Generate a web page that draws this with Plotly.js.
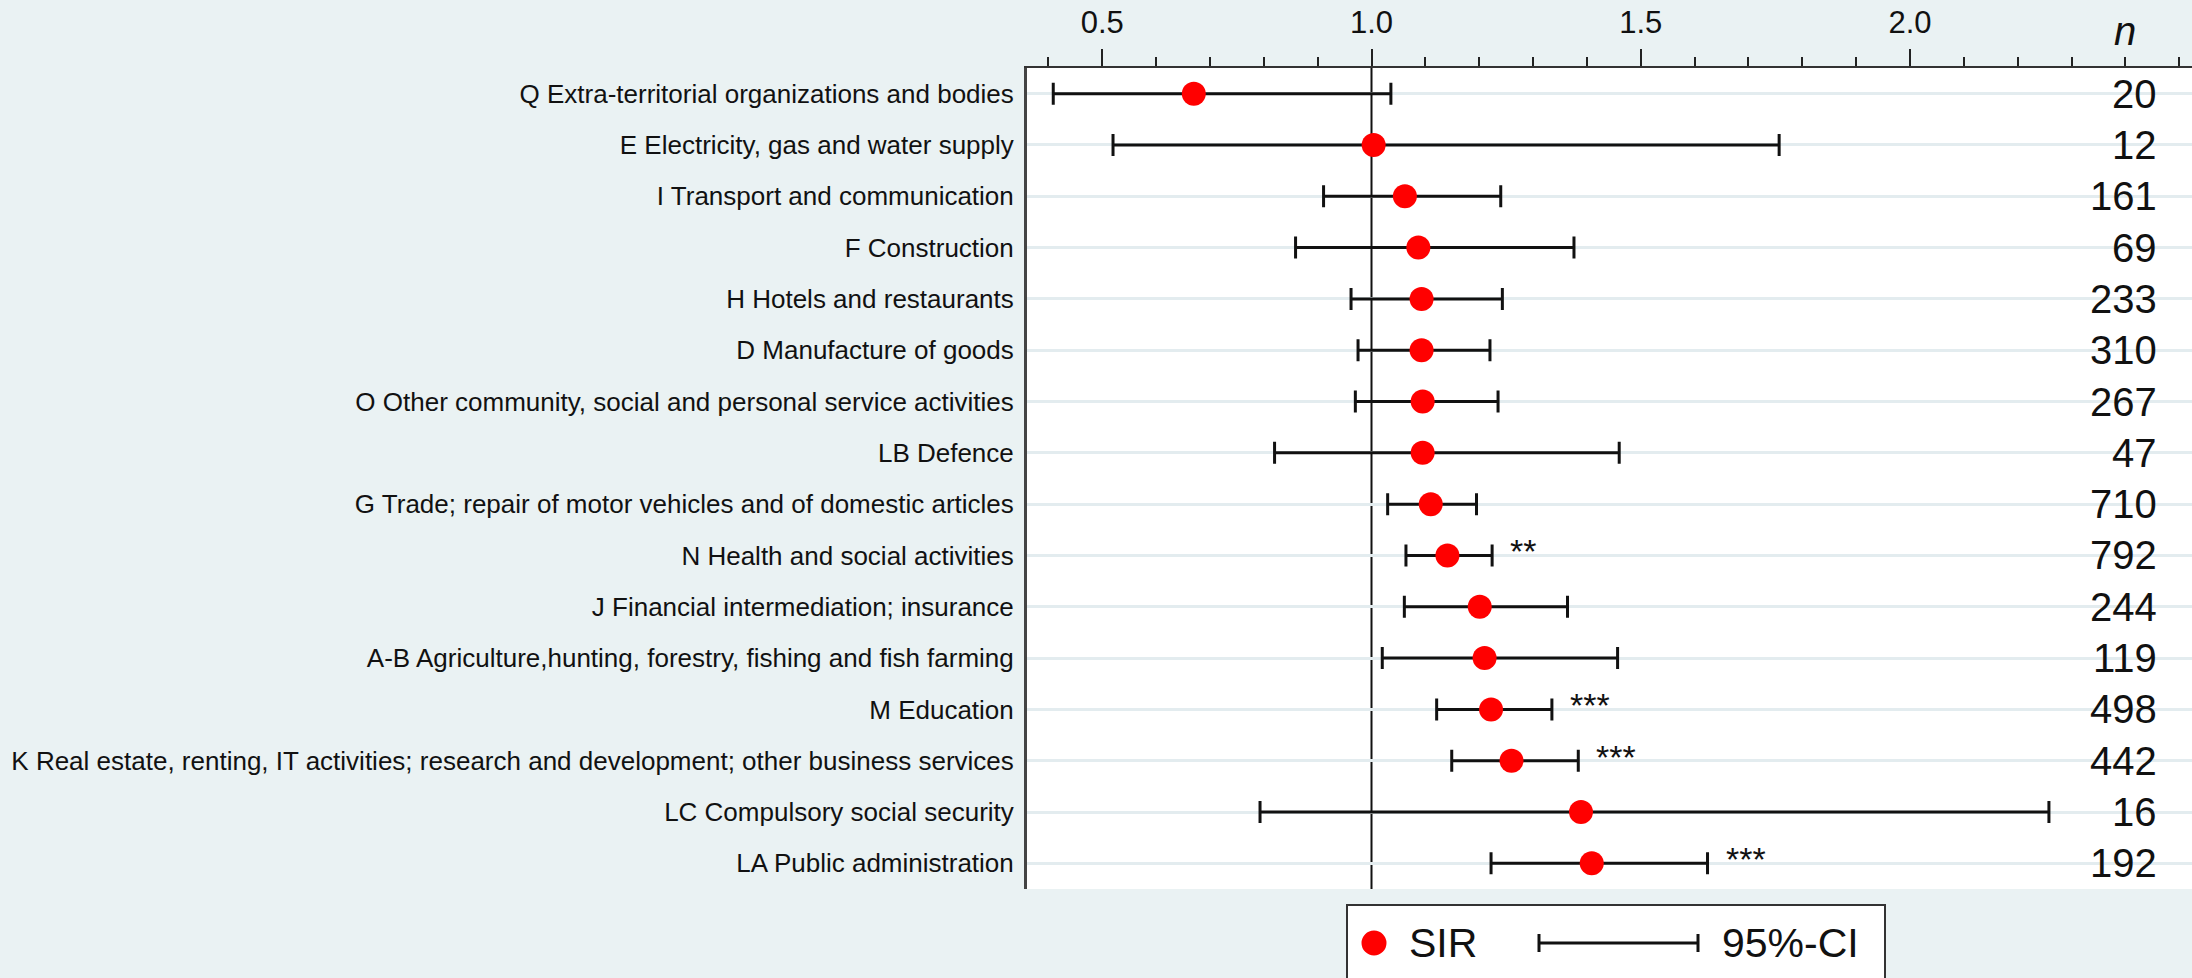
<!DOCTYPE html>
<html>
<head>
<meta charset="utf-8">
<script src="https://cdn.plot.ly/plotly-3.0.1.min.js"></script>
<style>
  html, body { margin: 0; padding: 0; background: #eaf2f3; }
  #chart { width: 2192px; height: 978px; }
</style>
</head>
<body>
<div id="chart"></div>
<script>
// ---- data ----
const categories = [
  "Q Extra-territorial organizations and bodies",
  "E Electricity, gas and water supply",
  "I Transport and communication",
  "F Construction",
  "H Hotels and restaurants",
  "D Manufacture of goods",
  "O Other community, social and personal service activities",
  "LB Defence",
  "G Trade; repair of motor vehicles and of domestic articles",
  "N Health and social activities",
  "J Financial intermediation; insurance",
  "A-B Agriculture,hunting, forestry, fishing and fish farming",
  "M Education",
  "K Real estate, renting, IT activities; research and development; other business services",
  "LC Compulsory social security",
  "LA Public administration"
];
const sir    = [0.670, 1.004, 1.062, 1.087, 1.093, 1.093, 1.095, 1.095, 1.110, 1.141, 1.201, 1.210, 1.222, 1.260, 1.389, 1.409];
const ciLow  = [0.409, 0.520, 0.911, 0.859, 0.962, 0.975, 0.970, 0.820, 1.030, 1.064, 1.061, 1.020, 1.121, 1.149, 0.793, 1.222];
const ciHigh = [1.036, 1.757, 1.240, 1.376, 1.243, 1.220, 1.235, 1.460, 1.195, 1.224, 1.364, 1.457, 1.335, 1.384, 2.258, 1.624];
const nObs   = [20, 12, 161, 69, 233, 310, 267, 47, 710, 792, 244, 119, 498, 442, 16, 192];
const stars  = ["", "", "", "", "", "", "", "", "", "**", "", "", "***", "***", "", "***"];
const xTickVals = [0.5, 1.0, 1.5, 2.0];
const xTickText = ["0.5", "1.0", "1.5", "2.0"];
const legendLabels = ["SIR", "95%-CI"];

// ---- geometry helpers (pixel -> paper) ----
const W = 2192, H = 978;
const M = { l: 1027, r: 0, t: 68, b: 89 };
const PW = W - M.l - M.r, PH = H - M.t - M.b;
const px = x => (x - M.l) / PW;
const py = y => (H - M.b - y) / PH;

const FONT = "Liberation Sans, Arial, sans-serif";

const trace = {
  type: "scatter",
  mode: "markers",
  x: sir,
  y: categories,
  marker: { color: "#ff0000", size: 24, line: { width: 0 } },
  error_x: {
    type: "data",
    symmetric: false,
    array: ciHigh.map((h, i) => h - sir[i]),
    arrayminus: ciLow.map((l, i) => sir[i] - l),
    color: "#111111",
    thickness: 3,
    width: 11
  },
  showlegend: false,
  hoverinfo: "skip"
};

const annotations = [];
categories.forEach((c, i) => {
  annotations.push({
    xref: "paper", yref: "y", x: px(2159), y: c,
    text: String(nObs[i]), xanchor: "right", yanchor: "middle",
    showarrow: false, font: { family: FONT, size: 40, color: "#111" }
  });
  if (stars[i]) {
    annotations.push({
      xref: "x", yref: "y", x: ciHigh[i], y: c,
      text: stars[i], xanchor: "left", yanchor: "middle", xshift: 16, yshift: 4,
      showarrow: false, font: { family: FONT, size: 34, color: "#111" }
    });
  }
});
// column header n
annotations.push({
  xref: "paper", yref: "paper", x: px(2125), y: py(31),
  text: "<i>n</i>", xanchor: "center", yanchor: "middle",
  showarrow: false, font: { family: FONT, size: 40, color: "#111" }
});
// legend texts
annotations.push({
  xref: "paper", yref: "paper", x: px(1407), y: py(943),
  text: legendLabels[0], xanchor: "left", yanchor: "middle",
  showarrow: false, font: { family: FONT, size: 41, color: "#111" }
});
annotations.push({
  xref: "paper", yref: "paper", x: px(1720), y: py(943),
  text: legendLabels[1], xanchor: "left", yanchor: "middle",
  showarrow: false, font: { family: FONT, size: 41, color: "#111" }
});

const shapes = [
  // reference line at SIR = 1
  { type: "line", xref: "x", yref: "paper", x0: 1, x1: 1, y0: 0, y1: 1,
    line: { color: "#111", width: 2 }, layer: "between" },
  // legend box
  { type: "rect", xref: "paper", yref: "paper", x0: px(1347), x1: px(1885), y0: py(1010), y1: py(905),
    fillcolor: "#ffffff", line: { color: "#333", width: 2 }, layer: "above" },
  // legend marker
  { type: "circle", xref: "paper", yref: "paper", xsizemode: "pixel", ysizemode: "pixel",
    xanchor: px(1374), yanchor: py(943), x0: -12.5, x1: 12.5, y0: -12.5, y1: 12.5,
    fillcolor: "#ff0000", line: { width: 0 }, layer: "above" },
  // legend CI bar
  { type: "line", xref: "paper", yref: "paper", x0: px(1539), x1: px(1698), y0: py(943), y1: py(943),
    line: { color: "#111", width: 3 }, layer: "above" },
  { type: "line", xref: "paper", yref: "paper", x0: px(1539), x1: px(1539), y0: py(934), y1: py(952),
    line: { color: "#111", width: 3 }, layer: "above" },
  { type: "line", xref: "paper", yref: "paper", x0: px(1698), x1: px(1698), y0: py(934), y1: py(952),
    line: { color: "#111", width: 3 }, layer: "above" }
];

const layout = {
  width: W, height: H, autosize: false,
  margin: M,
  paper_bgcolor: "#eaf2f3",
  plot_bgcolor: "#ffffff",
  showlegend: false,
  font: { family: FONT, color: "#111" },
  xaxis: {
    side: "top",
    range: [1 - 344.5 / 538.5, 1 + 820.5 / 538.5],
    tickmode: "array", tickvals: xTickVals, ticktext: xTickText,
    ticks: "outside", ticklen: 17, tickwidth: 2, tickcolor: "#222",
    minor: { dtick: 0.1, tick0: 0, ticks: "outside", ticklen: 9, tickwidth: 2, tickcolor: "#222", showgrid: false },
    showline: true, linecolor: "#333", linewidth: 2,
    showgrid: false, zeroline: false,
    tickfont: { family: FONT, size: 31, color: "#111" },
    ticklabelstandoff: 4,
    fixedrange: true
  },
  yaxis: {
    type: "category",
    categoryorder: "array", categoryarray: categories,
    range: [15.5, -0.5],
    showline: true, linecolor: "#444", linewidth: 3,
    ticks: "", showgrid: true, gridcolor: "#e3ecef", gridwidth: 3,
    zeroline: false,
    tickfont: { family: FONT, size: 26, color: "#111" },
    ticklabelstandoff: 5,
    fixedrange: true
  },
  shapes: shapes,
  annotations: annotations
};

Plotly.newPlot("chart", [trace], layout, { displayModeBar: false, staticPlot: true });
</script>
</body>
</html>
